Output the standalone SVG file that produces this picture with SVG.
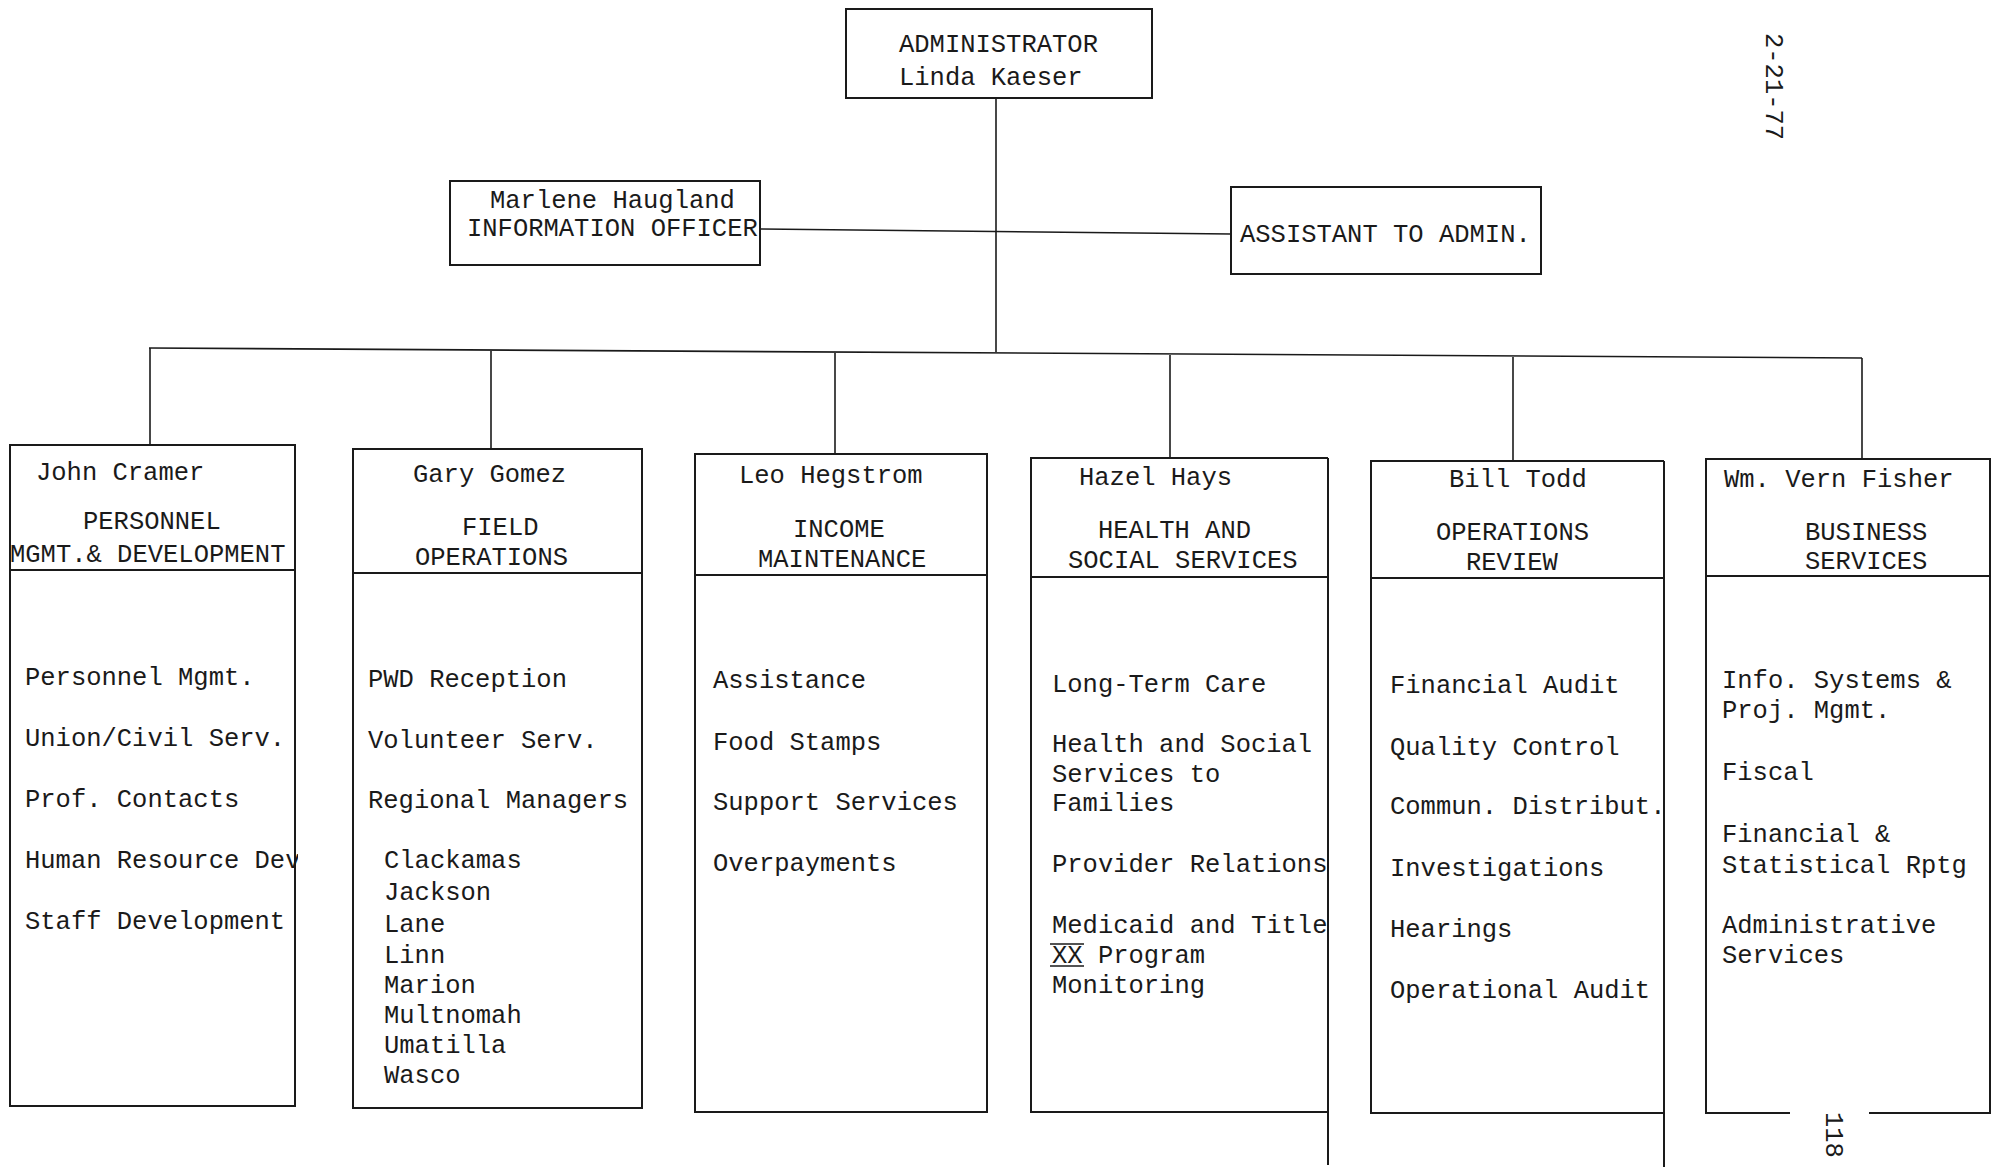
<svg xmlns="http://www.w3.org/2000/svg" width="1994" height="1167" viewBox="0 0 1994 1167">
<style>
text{font-family:"Liberation Mono","DejaVu Sans Mono",monospace;font-size:25.5px;fill:#1a1a1a}
.box{fill:none;stroke:#1a1a1a;stroke-width:2}
.ln{fill:none;stroke:#1a1a1a;stroke-width:1.6}
</style>
<defs>
<clipPath id="c1"><rect x="0" y="440" width="298" height="680"/></clipPath>
</defs>
<rect width="1994" height="1167" fill="#fff"/>
<g id="connectors">
<line class="ln" x1="996" y1="99" x2="996" y2="352"/>
<line class="ln" x1="760" y1="229" x2="1231" y2="234"/>
<line class="ln" x1="149" y1="348" x2="1862" y2="358"/>
<line class="ln" x1="150" y1="348" x2="150" y2="445"/>
<line class="ln" x1="491" y1="351" x2="491" y2="449"/>
<line class="ln" x1="835" y1="353" x2="835" y2="454"/>
<line class="ln" x1="1170" y1="355" x2="1170" y2="458"/>
<line class="ln" x1="1513" y1="357" x2="1513" y2="461"/>
<line class="ln" x1="1862" y1="358" x2="1862" y2="459"/>
</g>
<g id="administrator">
<rect class="box" x="846" y="9" width="306" height="89"/>
<text x="899" y="52">ADMINISTRATOR</text>
<text x="899" y="85">Linda Kaeser</text>
</g>
<g id="information-officer">
<rect class="box" x="450" y="181" width="310" height="84"/>
<text x="490" y="208">Marlene Haugland</text>
<text x="467" y="236">INFORMATION OFFICER</text>
</g>
<g id="assistant">
<rect class="box" x="1231" y="187" width="310" height="87"/>
<text x="1240" y="242">ASSISTANT TO ADMIN.</text>
</g>
<g id="personnel">
<rect class="box" x="10" y="445" width="285" height="661"/>
<line class="box" x1="10" y1="570" x2="295" y2="570"/>
<text x="36" y="480">John Cramer</text>
<text x="83" y="529">PERSONNEL</text>
<text x="10" y="562">MGMT.&amp; DEVELOPMENT</text>
<text x="25" y="685">Personnel Mgmt.</text>
<text x="25" y="746">Union/Civil Serv.</text>
<text x="25" y="807">Prof. Contacts</text>
<text x="25" y="868" clip-path="url(#c1)">Human Resource Dev</text>
<text x="25" y="929">Staff Development</text>
</g>
<g id="field-operations">
<rect class="box" x="353" y="449" width="289" height="659"/>
<line class="box" x1="353" y1="573" x2="642" y2="573"/>
<text x="413" y="482">Gary Gomez</text>
<text x="462" y="535">FIELD</text>
<text x="415" y="565">OPERATIONS</text>
<text x="368" y="687">PWD Reception</text>
<text x="368" y="748">Volunteer Serv.</text>
<text x="368" y="808">Regional Managers</text>
<text x="384" y="868">Clackamas</text>
<text x="384" y="900">Jackson</text>
<text x="384" y="932">Lane</text>
<text x="384" y="963">Linn</text>
<text x="384" y="993">Marion</text>
<text x="384" y="1023">Multnomah</text>
<text x="384" y="1053">Umatilla</text>
<text x="384" y="1083">Wasco</text>
</g>
<g id="income-maintenance">
<rect class="box" x="695" y="454" width="292" height="658"/>
<line class="box" x1="695" y1="575" x2="987" y2="575"/>
<text x="739" y="483">Leo Hegstrom</text>
<text x="793" y="537">INCOME</text>
<text x="758" y="567">MAINTENANCE</text>
<text x="713" y="688">Assistance</text>
<text x="713" y="750">Food Stamps</text>
<text x="713" y="810">Support Services</text>
<text x="713" y="871">Overpayments</text>
</g>
<g id="health-social-services">
<polyline class="box" points="1328,1112 1031,1112 1031,458 1328,458"/>
<line class="box" x1="1328" y1="458" x2="1328" y2="1165"/>
<line class="box" x1="1031" y1="577" x2="1328" y2="577"/>
<text x="1079" y="485">Hazel Hays</text>
<text x="1098" y="538">HEALTH AND</text>
<text x="1068" y="568">SOCIAL SERVICES</text>
<text x="1052" y="692">Long-Term Care</text>
<text x="1052" y="752">Health and Social</text>
<text x="1052" y="782">Services to</text>
<text x="1052" y="811">Families</text>
<text x="1052" y="872">Provider Relations</text>
<text x="1052" y="933">Medicaid and Title</text>
<text x="1052" y="963">XX Program</text>
<line class="ln" x1="1050" y1="944" x2="1084" y2="944"/>
<line class="ln" x1="1050" y1="966" x2="1084" y2="966"/>
<text x="1052" y="993">Monitoring</text>
</g>
<g id="operations-review">
<polyline class="box" points="1664,1113 1371,1113 1371,461 1664,461"/>
<line class="box" x1="1664" y1="461" x2="1664" y2="1167"/>
<line class="box" x1="1371" y1="578" x2="1664" y2="578"/>
<text x="1449" y="487">Bill Todd</text>
<text x="1436" y="540">OPERATIONS</text>
<text x="1466" y="570">REVIEW</text>
<text x="1390" y="693">Financial Audit</text>
<text x="1390" y="755">Quality Control</text>
<text x="1390" y="814">Commun. Distribut.</text>
<text x="1390" y="876">Investigations</text>
<text x="1390" y="937">Hearings</text>
<text x="1390" y="998">Operational Audit</text>
</g>
<g id="business-services">
<polyline class="box" points="1790,1113 1706,1113 1706,459 1990,459 1990,1113 1869,1113"/>
<line class="box" x1="1706" y1="576" x2="1990" y2="576"/>
<text x="1724" y="487">Wm. Vern Fisher</text>
<text x="1805" y="540">BUSINESS</text>
<text x="1805" y="569">SERVICES</text>
<text x="1722" y="688">Info. Systems &amp;</text>
<text x="1722" y="718">Proj. Mgmt.</text>
<text x="1722" y="780">Fiscal</text>
<text x="1722" y="842">Financial &amp;</text>
<text x="1722" y="873">Statistical Rptg</text>
<text x="1722" y="933">Administrative</text>
<text x="1722" y="963">Services</text>
</g>
<text x="1766" y="33" transform="rotate(90 1766 33)">2-21-77</text>
<text x="1826" y="1112" transform="rotate(90 1826 1112)">118</text>
</svg>
